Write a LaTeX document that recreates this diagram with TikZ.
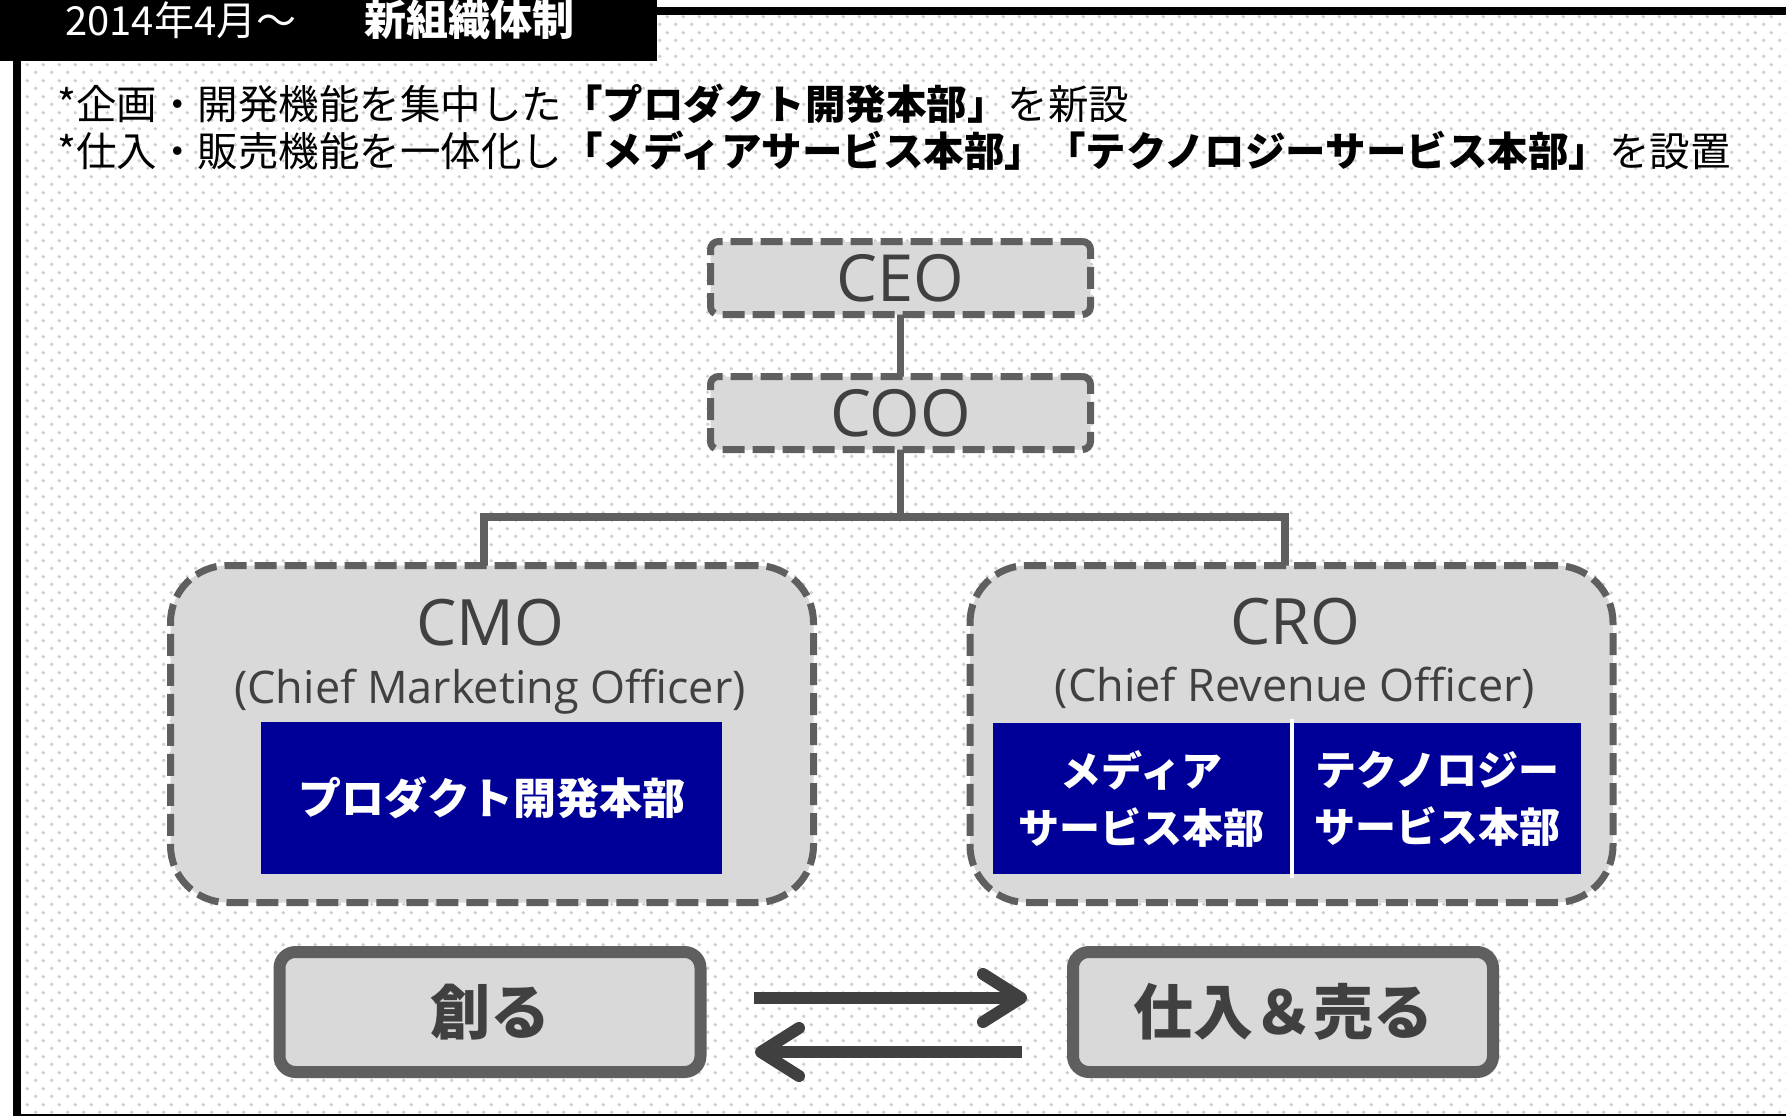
\documentclass[tikz,border=0pt]{standalone}
\usepackage{fontspec}
\setmainfont{Noto Sans CJK JP}
\newfontfamily\lat{Open Sans}
\usetikzlibrary{arrows.meta,patterns.meta,calc}
\definecolor{boxgray}{HTML}{D9D9D9}
\definecolor{bordergray}{HTML}{5F5F5F}
\definecolor{textgray}{HTML}{404040}
\definecolor{navy}{HTML}{000099}
\definecolor{dotgray}{HTML}{CFCFCF}
\tikzdeclarepattern{name=bgdots,type=colored,
  bounding box={(0pt,0pt) and (16pt,16pt)},
  tile size={(16pt,16pt)},
  code={\fill[dotgray] (4pt,4pt) circle (2pt);
        \fill[dotgray] (12pt,12pt) circle (2pt);}}
\newcommand\hl[1]{{\bfseries #1}}
\begin{document}
\begin{tikzpicture}[x=1pt,y=-1pt,
  dashbox/.style={draw=bordergray, line width=7pt, dash pattern=on 22pt off 8pt, fill=boxgray, inner sep=0pt},
  topbox/.style={dashbox, rounded corners=8pt, minimum width=380pt, minimum height=73pt,
     text=textgray, font=\lat\fontsize{65pt}{70pt}\selectfont, text height=46pt, text depth=0pt},
  bigbox/.style={dashbox, rounded corners=57pt, minimum width=643pt, minimum height=337pt},
  latlabel/.style={anchor=base, inner sep=0pt, text=textgray},
  bluebox/.style={fill=navy, inner sep=0pt, text=white, align=center,
     font=\bfseries\fontsize{41pt}{57pt}\selectfont},
  actbox/.style={draw=bordergray, line width=12pt, fill=boxgray, rounded corners=16pt,
     minimum width=421pt, minimum height=120pt, inner sep=0pt, text=textgray,
     font=\bfseries\fontsize{60pt}{64pt}\selectfont},
  conn/.style={draw=bordergray, line width=7.5pt},
  arr/.style={draw=textgray, line width=12pt, -{Straight Barb[length=38pt,width=48pt,round]}},
  introline/.style={anchor=base west, inner sep=0pt, font=\fontsize{40.5pt}{44pt}\selectfont}
]
\useasboundingbox (0,0) rectangle (1786,1116);
\fill[white] (0,0) rectangle (1786,1116);
\fill[pattern=bgdots] (21,15) rectangle (1786,1113);
% frame
\fill[black] (0,0) rectangle (657,61);
\draw[line width=8pt] (657,11) -- (1786,11);
\draw[line width=8pt] (17,61) -- (17,1116);
\draw[line width=3pt] (13,1115) -- (1786,1115);
% header
\node[anchor=base west, inner sep=0pt, text=white, font=\fontsize{40pt}{44pt}\selectfont] (hdr) at (65,36)
  {2014年4月～\hspace{68pt}{\bfseries\fontsize{42pt}{44pt}\selectfont 新組織体制}};
\node[introline] (line1) at (57,119)
  {*企画・開発機能を集中した\hl{「プロダクト開発本部」}を新設};
\node[introline] (line2) at (57,166)
  {*仕入・販売機能を一体化し\hl{「メディアサービス本部」「テクノロジーサービス本部」}を設置};
% bus
\coordinate (bus) at (900.5,517);
\draw[conn] (900.5,278) -- (900.5,413);
\draw[conn] (900.5,413) -- (bus);
\draw[conn] (484,600) |- (bus) -| (1285,600);
% top boxes
\node[topbox] (ceo) at (900.5,278) {CEO};
\node[topbox] (coo) at (900.5,413) {COO};
% big boxes
\node[bigbox] (cmo) at (492,734) {};
\node[bigbox] (cro) at (1291.5,734) {};
\node[latlabel, font=\lat\fontsize{64pt}{70pt}\selectfont] (cmot) at (490,645) {CMO};
\node[latlabel, font=\lat\fontsize{45pt}{50pt}\selectfont] (cmos) at (490,703) {(Chief Marketing Officer)};
\node[latlabel, font=\lat\fontsize{64pt}{70pt}\selectfont] (crot) at (1295,644) {CRO};
\node[latlabel, font=\lat\fontsize{45pt}{50pt}\selectfont] (cros) at (1295,701) {(Chief Revenue Officer)};
% blue boxes
\node[bluebox, minimum width=461pt, minimum height=152pt, font=\bfseries\fontsize{43pt}{50pt}\selectfont] (prod) at (491.5,798) {プロダクト開発本部};
\node[bluebox, minimum width=297pt, minimum height=151pt] (media) at (1141.5,798.5) {メディア\\サービス本部};
\node[bluebox, minimum width=287pt, minimum height=151pt] (tech) at (1437.5,798.5) {テクノロジー\\サービス本部};
\draw[white, line width=4pt] (1292,719) -- (1292,878);
% bottom boxes
\node[actbox] (create) at (490,1012) {創る};
\node[actbox, minimum width=420pt] (sell) at (1283,1012) {仕入＆売る};
\coordinate (r1) at (754,998);
\coordinate (r2) at (1027,998);
\coordinate (s1) at (1022,1052);
\coordinate (s2) at (755,1052);
\draw[arr] (r1) -- (r2);
\draw[arr] (s1) -- (s2);
\end{tikzpicture}
\end{document}
